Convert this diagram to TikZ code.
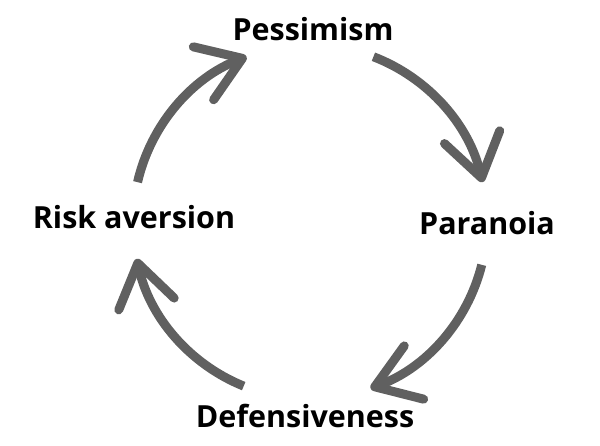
\documentclass[tikz,border=0pt]{standalone}
\usepackage{fontspec}
\setmainfont{Open Sans}
\usetikzlibrary{arrows.meta}
\definecolor{arrowGray}{RGB}{96,96,96}

\begin{document}
\begin{tikzpicture}[%
  x=0.03cm, y=0.03cm,%
  labelStyle/.style={font=\bfseries\fontsize{26}{30}\selectfont, anchor=base, inner sep=0pt},%
  cycleArrow/.style={arrowGray, line width=0.27cm,%
    -{Straight Barb[length=1.25cm, width=1.7cm, round]}}%
]
\useasboundingbox (0,0) rectangle (600,445);
%
%
\pgfmathsetmacro{\radius}{177} % Radius of the circle the arcs lie on.
\pgfmathsetmacro{\spread}{28}  % Half the angle of each arc.
\coordinate (origin) at (310,223);
%
%
% The four stages.
\node[labelStyle] (pessimism)    at (313,404) {Pessimism};
\node[labelStyle] (paranoia)     at (487,211) {Paranoia};
\node[labelStyle] (defensiveness) at (305,18) {Defensiveness};
\node[labelStyle] (riskAversion) at (134,216) {Risk aversion};
%
%
% The arrows between the stages.
\foreach \name/\mid in {pesPar/41, parDef/-42, defRisk/-140, riskPes/139}{%
  \coordinate (\name) at ([shift={(\mid+\spread:\radius)}]origin);
  \draw[cycleArrow] (\name) arc[start angle=\mid+\spread, end angle=\mid-\spread, radius=\radius];
}
\end{tikzpicture}
\end{document}
